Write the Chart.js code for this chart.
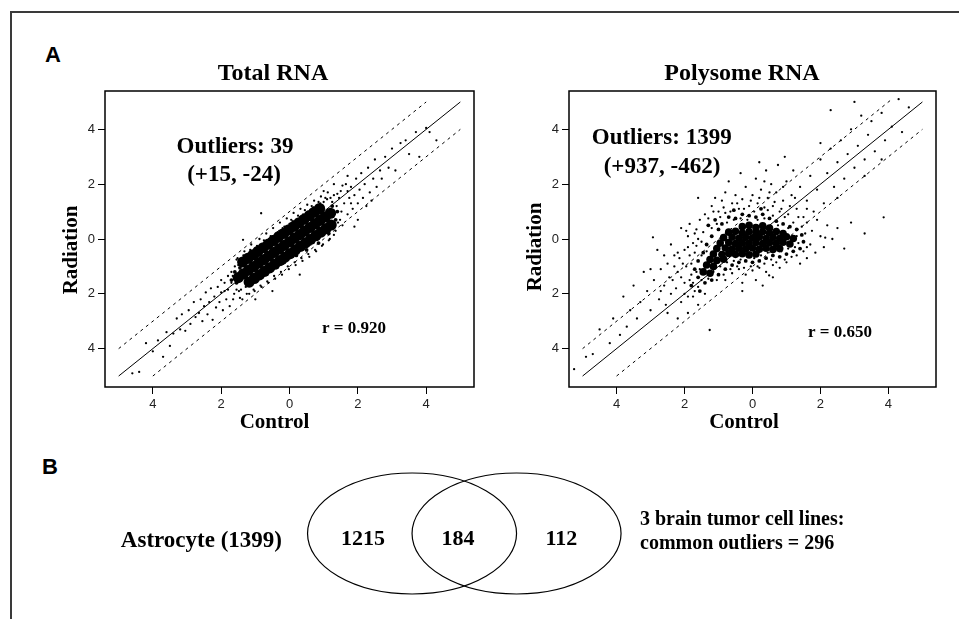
<!DOCTYPE html>
<html>
<head>
<meta charset="utf-8">
<script src="https://cdn.jsdelivr.net/npm/chart.js@4.4.0/dist/chart.umd.min.js"></script>
<style>
body { margin: 0; background: #fff; }
#fig { position: relative; width: 959px; height: 619px; overflow: hidden; }
#frame { position: absolute; left: 10px; top: 11px; right: -5px; bottom: -5px; border-top: 2px solid #3a3a3a; border-left: 2px solid #3a3a3a; }
.panel { position: absolute; font: bold 22px "Liberation Sans", Arial, sans-serif; line-height: 22px; color: #000; }
canvas { position: absolute; }
</style>
</head>
<body>
<div id="fig">
  <div id="frame"></div>
  <div class="panel" style="left:45px;top:44px">A</div>
  <div class="panel" style="left:42px;top:456px">B</div>
  <canvas id="total" width="480" height="440" style="left:0;top:0"></canvas>
  <canvas id="poly" width="479" height="440" style="left:480px;top:0"></canvas>
  <canvas id="venn" width="959" height="179" style="left:0;top:440px"></canvas>
</div>
<script>
// axis ticks (labels printed without sign, as in the figure)
var tickValues = [-4, -2, 0, 2, 4];
var tickLabels = ['4', '2', '0', '2', '4'];

// reference lines: identity and +/- 1 fold band
var identityLine = [[-5, -5], [5, 5]];
var upperBand = [[-5, -4], [4, 5]];
var lowerBand = [[-4, -5], [5, 4]];
var upperBandPoly = [[-5, -4], [4.1, 5.1]];

// Total RNA: dense core
var totalCore = [
  [-1.5,-1.41],[-1.35,-1.27],[-1.2,-1.14],[-1.05,-1.01],[-0.9,-0.88],[-0.75,-0.75],[-0.6,-0.62],[-0.45,-0.49],
  [-0.3,-0.36],[-0.15,-0.23],[0,-0.1],[0.15,0.03],[0.3,0.16],[0.45,0.29],[0.6,0.42],[0.75,0.55],[0.9,0.68],
  [1.05,0.81],[1.2,0.94],
  [-1.37,-0.84],[-1.22,-0.71],[-1.07,-0.58],[-0.92,-0.45],[-0.77,-0.32],[-0.62,-0.19],[-0.47,-0.06],[-0.32,0.07],
  [-0.17,0.2],[-0.02,0.33],[0.13,0.46],[0.28,0.59],[0.43,0.72],[0.58,0.85],[0.73,0.98],[0.88,1.11],
  [-1.18,-1.57],[-1.03,-1.44],[-0.88,-1.31],[-0.73,-1.18],[-0.58,-1.05],[-0.43,-0.92],[-0.28,-0.79],[-0.13,-0.66],
  [0.02,-0.53],[0.17,-0.4],[0.32,-0.27],[0.47,-0.14],[0.62,-0.01],[0.77,0.12],[0.92,0.25],[1.07,0.38],[1.22,0.51]
];
var totalMid = [
  [-1.6,-1.2],[-1.55,-1.6],[-1.45,-1.05],[-1.25,-1.5],[-0.95,-0.65],[-0.6,-0.25],[-0.25,0.05],[0.05,0.3],
  [0.35,0.5],[0.65,0.75],[0.95,0.95],[1.25,1.2],[-0.85,-1.3],[-0.5,-1.0],[-0.15,-0.85],[0.2,-0.6],
  [0.5,-0.4],[0.85,-0.15],[1.15,0.2],[1.35,0.7],[1.4,1.0],[-1.7,-1.5]
];
var totalSparse = [
  [-4.6,-4.9],[-4.4,-4.85],[-4.2,-3.8],[-4.0,-4.1],[-3.85,-3.7],[-3.7,-4.3],[-3.6,-3.4],[-3.5,-3.9],[-3.4,-3.45],
  [-3.3,-2.9],[-3.2,-3.3],[-3.15,-2.75],[-3.05,-3.35],[-2.95,-2.6],[-2.9,-3.1],[-2.8,-2.3],[-2.75,-2.85],[-2.65,-2.7],
  [-2.6,-2.2],[-2.55,-3.0],[-2.5,-2.45],[-2.45,-1.95],[-2.4,-2.75],[-2.35,-2.3],[-2.3,-1.8],[-2.25,-2.95],[-2.2,-2.1],
  [-2.15,-2.5],[-2.1,-1.75],[-2.05,-2.3],[-2.0,-1.95],[-1.95,-2.6],[-1.9,-1.6],[-1.85,-2.2],[-1.8,-1.85],[-1.8,-1.35],
  [-1.75,-2.45],[-1.7,-1.6],
  [-1.6,-1.0],[-1.62,-2.0],[-1.55,-1.85],[-1.5,-0.95],[-1.48,-1.9],[-1.52,-0.7],[-1.4,-0.8],[-1.42,-1.85],[-1.38,-2.2],
  [-1.3,-0.7],[-1.28,-1.75],[-1.32,-0.45],[-1.2,-0.55],[-1.22,-1.7],[-1.18,-2.0],[-1.1,-0.5],[-1.08,-1.6],[-1.12,-0.2],
  [-1.0,-0.4],[-0.98,-1.55],[-1.02,-1.9],[-0.9,-0.3],[-0.92,-1.45],[-0.88,0.0],[-0.8,-0.2],[-0.78,-1.4],[-0.82,-1.75],
  [-0.7,-0.1],[-0.72,-1.3],[-0.68,0.2],[-0.6,0.0],[-0.58,-1.2],[-0.62,-1.6],[-0.5,0.1],[-0.52,-1.15],[-0.48,0.4],
  [-0.4,0.2],[-0.38,-1.05],[-0.42,-1.45],[-0.3,0.3],[-0.32,-0.95],[-0.28,0.6],[-0.2,0.4],[-0.18,-0.9],[-0.22,-1.3],
  [-0.1,0.45],[-0.12,-0.8],[-0.08,0.75],[0,0.55],[0.02,-0.7],[-0.02,-1.1],[0.1,0.65],[0.08,-0.6],[0.12,0.95],
  [0.2,0.7],[0.22,-0.55],[0.18,-0.95],[0.3,0.8],[0.28,-0.45],[0.32,1.1],[0.4,0.9],[0.42,-0.35],[0.38,-0.8],
  [0.5,0.95],[0.48,-0.3],[0.52,1.25],[0.6,1.05],[0.62,-0.2],[0.58,-0.65],[0.7,1.15],[0.68,-0.1],[0.72,1.4],
  [0.8,1.2],[0.82,0.0],[0.78,-0.45],[0.9,1.3],[0.88,0.1],[0.92,1.55],[1.0,1.35],[1.02,0.2],[0.98,-0.2],
  [1.1,1.45],[1.08,0.3],[1.12,1.7],[1.2,1.5],[1.22,0.4],[1.18,0.0],[1.3,1.6],[1.28,0.5],[1.32,0.9],
  [1.4,1.65],[1.42,0.6],[1.38,1.2],[1.5,1.75],[1.48,0.7],[1.52,1.0],
  [-1.55,-0.75],[-1.45,-2.15],[-1.35,-0.6],[-1.25,-2.0],[-1.15,-0.4],[-1.05,-1.85],[-0.95,-0.25],[-0.85,-1.7],
  [-0.75,-0.05],[-0.65,-1.55],[-0.55,0.1],[-0.45,-1.35],[-0.35,0.25],[-0.25,-1.2],[-0.15,0.45],[-0.05,-1.0],
  [0.05,0.7],[0.15,-0.85],[0.25,0.85],[0.35,-0.7],[0.45,1.05],[0.55,-0.55],[0.65,1.2],[0.75,-0.4],[0.85,1.35],
  [0.95,-0.25],[1.05,1.5],[1.15,-0.05],[1.25,1.35],[1.35,0.3],[1.45,1.5],[1.55,0.5],[-1.7,-1.2],[-1.9,-1.9],
  [-1.65,-2.2],[-2.0,-1.5],[1.7,1.75],[1.8,1.3],[1.55,1.95],[1.3,0.15],
  [1.6,1.3],[1.65,2.0],[1.7,0.9],[1.75,1.5],[1.8,1.9],[1.85,1.1],[1.9,1.6],[1.95,2.2],[2.0,1.3],[2.05,1.8],
  [2.1,2.4],[2.15,1.5],[2.2,2.0],[2.25,1.2],[2.3,2.6],[2.35,1.7],[2.45,2.2],[2.5,2.9],[2.55,1.9],[2.65,2.5],
  [2.7,2.2],[2.8,3.0],[2.9,2.6],[3.0,3.3],[3.1,2.5],[3.25,3.5],[3.4,3.6],[3.5,3.1],[3.7,3.9],[3.8,3.0],
  [4.0,4.05],[4.1,3.9],[4.3,3.6],[1.7,2.3],[1.3,2.0],[1.0,1.75],[2.4,1.4],[2.0,0.7],[1.9,0.45],
  [-0.83,0.94],[-1.36,-0.03],[-1.0,-2.2],[0.3,-1.3],[-0.5,-1.9],[-1.66,-1.35]
];

// Polysome RNA
var polyCore = [
  [-0.3,0.45],[-0.1,0.5],[0.1,0.42],[0.3,0.48],[0.5,0.4],
  [-0.7,0.25],[-0.5,0.28],[-0.3,0.22],[-0.1,0.27],[0.1,0.24],[0.3,0.26],[0.5,0.22],[0.7,0.27],[0.9,0.2],
  [-0.85,0.05],[-0.6,0.07],[-0.4,0.03],[-0.2,0.06],[0,0.04],[0.2,0.07],[0.4,0.02],[0.6,0.06],[0.8,0.03],[1.0,0.08],[1.2,0.02],
  [-0.95,-0.15],[-0.7,-0.13],[-0.5,-0.17],[-0.3,-0.14],[-0.1,-0.16],[0.1,-0.13],[0.3,-0.17],[0.5,-0.14],[0.7,-0.16],[0.9,-0.12],[1.1,-0.18],
  [-1.05,-0.35],[-0.8,-0.33],[-0.6,-0.37],[-0.4,-0.34],[-0.2,-0.36],[0,-0.33],[0.2,-0.37],[0.4,-0.34],[0.6,-0.38],[0.8,-0.35],
  [-1.15,-0.55],[-0.9,-0.57],[-0.7,-0.53],[-0.5,-0.56],[-0.3,-0.54],[-0.1,-0.58],[0.1,-0.55],
  [-1.25,-0.75],[-1.05,-0.78],[-0.85,-0.74],[-1.35,-0.95],[-1.15,-1.0],[-1.45,-1.2],[-1.25,-1.25]
];
var polyMid = [
  [-1.3,0.5],[-1.1,0.7],[-0.9,0.55],[-0.7,0.8],[-0.5,0.75],[-0.3,0.9],[-0.1,0.85],[0.1,0.8],[0.3,0.9],[0.5,0.75],
  [0.7,0.65],[0.9,0.55],[1.1,0.45],[1.3,0.35],[1.45,0.15],[1.5,-0.1],[1.4,-0.35],[1.2,-0.45],[1.0,-0.55],[0.8,-0.65],
  [0.6,-0.6],[0.4,-0.7],[0.2,-0.8],[0,-0.85],[-0.2,-0.8],[-0.4,-0.85],[-0.6,-0.95],[-0.8,-1.1],[-1.0,-1.3],[-1.2,-1.5],
  [-1.4,-1.6],[-1.6,-1.4],[-1.7,-1.1],[-1.6,-0.8],[-1.45,-0.5],[-1.35,-0.2],[-1.2,0.1],[-1.0,0.35],[-0.55,1.05],[0.25,1.1],
  [-1.8,-1.7],[-1.55,-1.9]
];
var polySparse = [
  [-1.4,0.9],[-1.2,1.2],[-1.0,1.0],[-0.9,1.4],[-0.8,0.95],[-0.6,1.3],[-0.5,1.6],[-0.4,1.1],[-0.3,1.45],[-0.2,1.9],
  [-0.1,1.2],[0,1.6],[0.1,2.2],[0.15,1.3],[0.25,1.8],[0.35,1.15],[0.4,2.5],[0.45,1.5],[0.55,2.0],[0.6,1.2],
  [0.7,1.7],[0.75,2.7],[0.8,1.0],[0.9,1.4],[1.0,2.1],[1.05,0.9],[1.15,1.6],[1.2,2.5],[1.3,1.1],[1.4,1.9],
  [1.5,0.8],[1.6,1.4],[1.7,2.3],[1.8,1.0],[-0.7,2.1],[0.2,2.8],[-1.6,1.5],[0.95,3.0],[-0.35,2.4],
  [1.9,1.8],[2.0,2.9],[2.1,1.3],[2.2,2.4],[2.3,3.3],[2.4,1.9],[2.5,2.8],[2.6,3.6],[2.7,2.2],[2.8,3.1],
  [2.9,4.0],[3.0,2.6],[3.1,3.4],[3.2,4.5],[3.3,2.9],[3.4,3.8],[3.5,4.3],[3.6,3.2],[3.8,4.6],[3.9,3.6],
  [4.1,4.1],[4.3,5.1],[4.4,3.9],[4.6,4.8],[2.3,4.7],[3.0,5.0],[2.5,1.5],[3.3,2.3],[3.8,2.9],[2.0,3.5],
  [1.6,0.6],[1.7,-0.2],[1.75,0.3],[1.85,-0.5],[1.9,0.7],[2.0,0.1],[2.1,-0.3],[2.14,0.05],[2.2,0.5],[2.35,0.0],
  [2.5,0.4],[2.7,-0.35],[2.9,0.6],[3.3,0.2],[3.86,0.79],[1.6,-0.7],[1.3,-0.6],[1.4,-0.9],
  [-0.6,-1.25],[-0.4,-1.1],[-0.2,-1.3],[0,-1.15],[0.2,-1.05],[0.4,-1.2],[0.49,-1.33],[0.6,-0.95],[0.8,-1.05],
  [1.0,-0.85],[-0.3,-1.6],[0.1,-1.5],[-0.8,-1.5],[0.3,-1.7],
  [-1.7,-1.9],[-1.8,-1.3],[-1.9,-2.1],[-2.0,-1.6],[-2.05,-0.9],[-2.1,-2.3],[-2.2,-1.2],[-2.25,-1.8],[-2.3,-0.6],
  [-2.4,-2.0],[-2.45,-1.4],[-2.5,-0.9],[-2.55,-2.4],[-2.6,-1.7],[-2.7,-1.1],[-2.75,-2.2],[-2.8,-0.4],[-2.9,-1.5],
  [-2.93,0.06],[-3.0,-2.6],[-3.1,-1.9],[-3.2,-1.2],[-3.3,-2.3],[-3.4,-2.9],[-3.5,-1.7],[-3.6,-2.6],[-3.7,-3.2],
  [-3.8,-2.1],[-3.9,-3.5],[-4.1,-2.9],[-4.2,-3.8],[-4.5,-3.3],[-4.7,-4.2],[-4.9,-4.3],[-5.25,-4.75],[-1.6,-2.4],
  [-1.9,-2.7],[-1.4,-2.0],[-1.26,-3.32],[-2.2,-2.9],[-1.7,0.2],[-1.9,-0.3],[-2.1,0.4],[-1.5,-0.1],[-1.85,0.55],
  [-1.5,-0.6],[-1.6,0.0],[-1.7,-0.5],[-1.8,-0.9],[-1.9,0.1],[-2.0,-0.4],[-2.15,-0.7],[-2.3,-1.0],[-2.4,-0.2],
  [-1.55,-1.1],[-1.75,-1.6],[-1.65,-0.25],
  [-1.95,-1.0],[-1.85,-0.6],[-1.75,-0.15],[-1.65,0.35],[-1.55,0.7],[-1.45,0.25],[-1.35,-0.45],[-1.3,0.75],
  [-1.2,0.4],[-1.15,1.0],[-1.05,0.55],[-0.95,0.8],[-0.85,1.15],[-0.75,0.6],[-0.65,1.0],[-0.55,0.7],[-0.45,1.3],
  [-0.35,0.75],[-0.25,1.1],[-0.15,0.7],[-0.05,1.4],[0.05,1.0],[0.15,0.7],[0.2,1.5],[0.35,0.75],[0.45,1.05],
  [0.5,1.7],[0.6,0.85],[0.65,1.35],[0.75,0.5],[0.85,1.1],[0.95,0.8],[1.05,0.4],[1.1,1.2],[1.2,0.6],[1.3,0.1],
  [1.35,0.8],[1.45,0.45],[1.55,0.2],[1.6,-0.3],[1.5,-0.45],[1.35,-0.15],[1.25,-0.3],[1.15,-0.65],[1.05,-0.35],
  [0.95,-0.75],[0.85,-0.45],[0.7,-0.85],[0.55,-0.75],[0.45,-0.5],[0.35,-0.9],[0.25,-0.6],[0.15,-1.0],[0.05,-0.7],
  [-0.05,-1.0],[-0.15,-0.65],[-0.25,-1.05],[-0.35,-0.75],[-0.45,-1.0],[-0.55,-0.8],[-0.65,-1.1],[-0.75,-0.85],
  [-0.85,-1.3],[-0.95,-1.0],[-1.05,-1.5],[-1.15,-1.2],[-1.3,-1.45],[-1.4,-1.05],[-1.5,-1.5],[-1.6,-1.75],
  [-1.65,-1.2],[-1.75,-2.1],[-1.85,-1.5],[-2.0,-2.0],[-2.1,-1.4],[-2.2,-0.5],[-1.95,0.3],[-1.1,1.5],[-0.8,1.7],
  [0.35,2.1],[0.9,1.9],[1.25,1.5],[1.6,1.1],[-0.3,-1.9],[0.6,-1.4],[-2.6,-0.6],[-2.7,-1.9],[-2.35,-1.5],
  [-3.0,-1.1],[-2.5,-2.7]
];

// Venn (B): astrocyte only, shared, tumor lines only
var vennCounts = [1215, 184, 112];
var vennCenters = [0, 1];
var vennRadius = 1;

function xy(pts) {
  return pts.map(function (p) { return { x: p[0], y: p[1] }; });
}

function serif(ctx, size) {
  ctx.font = 'bold ' + size + 'px "Liberation Serif", "Times New Roman", serif';
}

// frame box, titles and annotations of one scatter panel
var panelText = {
  id: 'panelText',
  afterDraw: function (chart, args, o) {
    var ctx = chart.ctx, a = chart.chartArea;
    var cx = (a.left + a.right) / 2;
    ctx.save();
    ctx.strokeStyle = '#000';
    ctx.lineWidth = 1.5;
    ctx.strokeRect(a.left, a.top, a.right - a.left, a.bottom - a.top);
    ctx.fillStyle = '#000';
    ctx.textAlign = 'center';
    serif(ctx, 24);
    ctx.fillText(o.title, cx + o.titleDx, 80);
    serif(ctx, 21);
    ctx.fillText('Control', cx + o.xTitleDx, 428);
    ctx.save();
    ctx.translate(a.left - 28, o.yTitleY);
    ctx.rotate(-Math.PI / 2);
    ctx.fillText('Radiation', 0, 0);
    ctx.restore();
    serif(ctx, 23);
    ctx.fillText(o.outliers, a.left + o.outPos[0], a.top + o.outPos[1]);
    ctx.fillText(o.split, a.left + o.splitPos[0], a.top + o.splitPos[1]);
    serif(ctx, 17);
    ctx.fillText(o.r, a.left + o.rPos[0], a.top + o.rPos[1]);
    ctx.restore();
  }
};

function axis(fitFn) {
  return {
    type: 'linear',
    min: -5.4,
    max: 5.4,
    afterBuildTicks: function (scale) {
      scale.ticks = tickValues.map(function (v) { return { value: v }; });
    },
    afterFit: fitFn,
    border: { display: false },
    grid: { drawOnChartArea: false, drawTicks: true, tickLength: 7, color: '#000', lineWidth: 1 },
    ticks: {
      autoSkip: false,
      maxRotation: 0,
      padding: 3,
      color: '#222',
      font: { family: '"Liberation Sans", Arial, sans-serif', size: 13 },
      callback: function (value, index) { return tickLabels[index]; }
    }
  };
}

function makeScatter(id, core, mid, sparse, upper, yAxisWidth, rightPad, text) {
  var dot = { showLine: false, backgroundColor: '#000', borderWidth: 0, pointBorderWidth: 0 };
  var line = { showLine: true, pointRadius: 0, borderColor: '#000', borderWidth: 1, fill: false };
  return new Chart(document.getElementById(id), {
    type: 'scatter',
    data: {
      datasets: [
        Object.assign({ data: xy(identityLine) }, line),
        Object.assign({ data: xy(upper), borderDash: [3, 4] }, line),
        Object.assign({ data: xy(lowerBand), borderDash: [3, 4] }, line),
        Object.assign({ data: xy(core), pointRadius: text.coreR }, dot),
        Object.assign({ data: xy(mid), pointRadius: 1.9 }, dot),
        Object.assign({ data: xy(sparse), pointRadius: 1.15 }, dot)
      ]
    },
    options: {
      responsive: false,
      animation: false,
      events: [],
      layout: { padding: { top: 91, right: rightPad, bottom: 0, left: 0 } },
      scales: {
        x: Object.assign(axis(function (s) { s.height = 53; }), { position: 'bottom' }),
        y: Object.assign(axis(function (s) { s.width = yAxisWidth; }), { position: 'left' })
      },
      plugins: {
        legend: { display: false },
        tooltip: { enabled: false },
        panelText: text
      }
    },
    plugins: [panelText]
  });
}

makeScatter('total', totalCore, totalMid, totalSparse, upperBand, 105, 6, {
  title: 'Total RNA', titleDx: -16.5, xTitleDx: -15, yTitleY: 250, coreR: 5.6,
  outliers: 'Outliers: 39', split: '(+15, -24)', r: 'r = 0.920',
  outPos: [130, 61.6], splitPos: [129, 89.6], rPos: [249, 242.3]
});

makeScatter('poly', polyCore, polyMid, polySparse, upperBandPoly, 89, 23, {
  title: 'Polysome RNA', titleDx: -10.5, xTitleDx: -8.5, yTitleY: 247, coreR: 3.8,
  outliers: 'Outliers: 1399', split: '(+937, -462)', r: 'r = 0.650',
  outPos: [92.7, 53.3], splitPos: [93, 82.3], rPos: [271, 246.3]
});

// Venn diagram for panel B, ellipses placed through the chart scales
var vennDraw = {
  id: 'vennDraw',
  afterDraw: function (chart) {
    var ctx = chart.ctx, x = chart.scales.x, y = chart.scales.y;
    var py = y.getPixelForValue(0);
    ctx.save();
    ctx.strokeStyle = '#000';
    ctx.lineWidth = 1.2;
    vennCenters.forEach(function (c) {
      var px = x.getPixelForValue(c);
      var rx = x.getPixelForValue(c + vennRadius) - px;
      var ry = py - y.getPixelForValue(vennRadius);
      ctx.beginPath();
      ctx.ellipse(px, py, rx, ry, 0, 0, Math.PI * 2);
      ctx.stroke();
    });
    ctx.fillStyle = '#000';
    ctx.textAlign = 'center';
    serif(ctx, 22);
    var labelAt = [-0.47, 0.44, 1.43];
    vennCounts.forEach(function (n, i) {
      ctx.fillText(String(n), x.getPixelForValue(labelAt[i]), 105);
    });
    serif(ctx, 23);
    ctx.textAlign = 'right';
    ctx.fillText('Astrocyte (' + (vennCounts[0] + vennCounts[1]) + ')', 282, 106.5);
    serif(ctx, 20);
    ctx.textAlign = 'left';
    ctx.fillText('3 brain tumor cell lines:', 640, 85);
    ctx.fillText('common outliers = ' + (vennCounts[1] + vennCounts[2]), 640, 109);
    ctx.restore();
  }
};

new Chart(document.getElementById('venn'), {
  type: 'scatter',
  data: { datasets: [] },
  options: {
    responsive: false,
    animation: false,
    events: [],
    layout: { padding: 0 },
    scales: {
      x: { type: 'linear', display: false, min: -3.943, max: 5.234 },
      y: { type: 'linear', display: false, min: -1.413, max: 1.545 }
    },
    plugins: { legend: { display: false }, tooltip: { enabled: false } }
  },
  plugins: [vennDraw]
});
</script>
</body>
</html>
